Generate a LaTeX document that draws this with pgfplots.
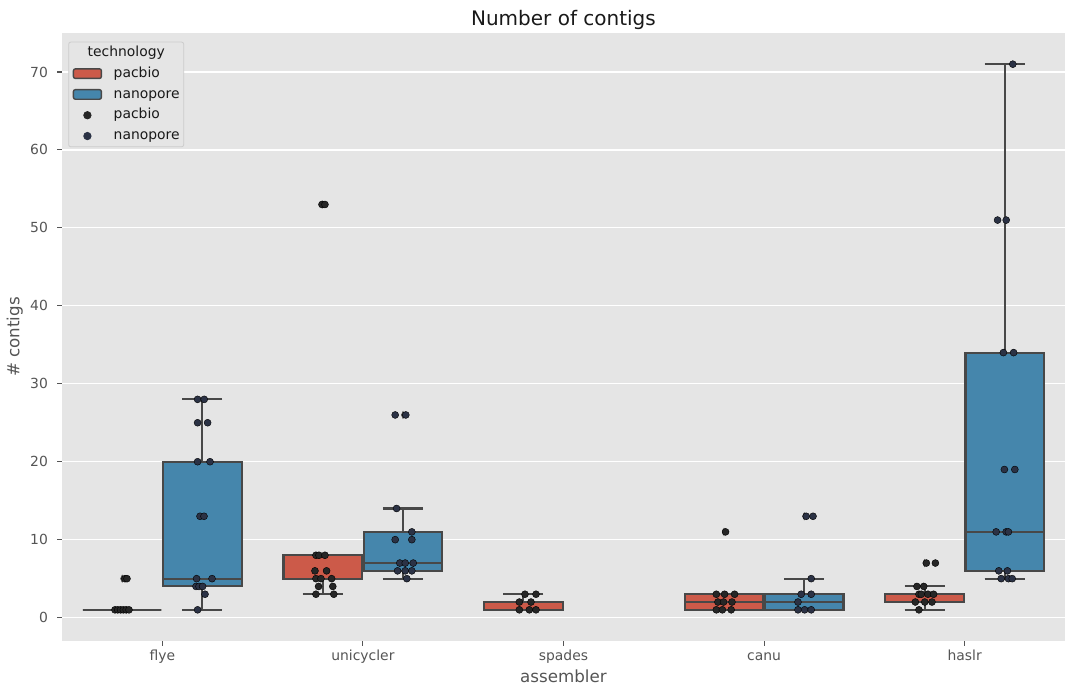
\documentclass[border=0pt]{standalone}
\usepackage{pgfplots}
\usepackage{pgfplotstable}
\pgfplotsset{compat=1.18}
\usepgfplotslibrary{statistics}
\usepackage{fontspec}
\setmainfont{DejaVu Sans}
\definecolor{bg}{HTML}{E5E5E5}
\definecolor{pbox}{RGB}{204,90,73}
\definecolor{nbox}{RGB}{69,134,172}
\definecolor{edge}{HTML}{484848}
\definecolor{tickc}{HTML}{555555}
\definecolor{pdot}{HTML}{262626}
\definecolor{ndot}{HTML}{2B3245}
\definecolor{legedge}{HTML}{CCCCCC}

\pgfplotstableread{
x y
-0.236 1
-0.222 1
-0.208 1
-0.194 1
-0.180 1
-0.166 1
-0.186 5
-0.176 5
0.766 8
0.781 8
0.811 8
0.761 6
0.819 6
0.766 5
0.791 5
0.844 5
0.779 4
0.850 4
0.766 3
0.855 3
0.796 53
0.811 53
1.808 3
1.863 3
1.780 2
1.838 2
1.780 1
1.830 1
1.863 1
2.762 3
2.803 3
2.853 3
2.770 2
2.798 2
2.840 2
2.762 1
2.792 1
2.836 1
2.808 11
3.809 7
3.854 7
3.762 4
3.796 4
3.772 3
3.784 3
3.817 3
3.845 3
3.754 2
3.801 2
3.837 2
3.772 1
}\pacdots

\pgfplotstableread{
x y
0.176 28
0.209 28
0.176 25
0.226 25
0.176 20
0.238 20
0.188 13
0.208 13
0.171 5
0.248 5
0.168 4
0.183 4
0.201 4
0.213 3
0.176 1
1.168 14
1.244 11
1.161 10
1.244 10
1.184 7
1.211 7
1.251 7
1.173 6
1.211 6
1.244 6
1.219 5
1.161 26
1.214 26
3.235 5
3.185 3
3.235 3
3.169 2
3.169 1
3.202 1
3.235 1
3.210 13
3.244 13
4.240 71
4.164 51
4.207 51
4.193 34
4.244 34
4.198 19
4.250 19
4.157 11
4.207 11
4.218 11
4.170 6
4.213 6
4.182 5
4.218 5
4.237 5
}\nandots

\pgfplotstableread{
x y
-0.2 5
0.8 53
1.2 26
2.8 11
3.2 13
3.8 7
}\fliers

\pgfplotsset{
  bx/.style={forget plot, draw=edge, line width=2.1pt,
    boxplot/draw direction=y,
    boxplot/box extend=0.392, boxplot/whisker extend=0.2},
}

\begin{document}
\begin{tikzpicture}
\useasboundingbox (0,0) rectangle (1067pt,686pt);
\begin{axis}[
  at={(62pt,45pt)}, anchor=south west,
  scale only axis, width=1003pt, height=608pt,
  xmin=-0.5, xmax=4.5, ymin=-3, ymax=75,
  axis background/.style={fill=bg},
  axis line style={draw=none},
  ymajorgrids, grid style={white, line width=1.2pt},
  xtick={0,1,2,3,4},
  xticklabels={flye,unicycler,spades,canu,haslr},
  ytick={0,10,...,70},
  tick align=outside, xtick pos=bottom, ytick pos=left,
  major tick length=4.9pt,
  major tick style={draw=tickc, line width=1.1pt},
  /pgf/number format/assume math mode=true,
  tick label style={font=\fontsize{13.9}{16}\selectfont, text=tickc},
  xticklabel style={anchor=base, inner sep=0pt, yshift=-15pt},
  yticklabel style={anchor=east, inner sep=0pt, xshift=-9pt},
  title={Number of contigs},
  title style={font=\fontsize{20}{24}\selectfont, text=black!90,
    at={(axis description cs:0.5,1)}, anchor=base, yshift=2pt},
  xlabel={assembler},
  xlabel style={font=\fontsize{16.7}{20}\selectfont, text=tickc,
    at={(axis description cs:0.5,0)}, anchor=base, yshift=-41pt},
  ylabel={\# contigs},
  ylabel style={font=\fontsize{16.7}{20}\selectfont, text=tickc,
    at={(axis description cs:-0.0424,0.5)}, anchor=base},
  legend style={at={(rel axis cs:0.0063,0.9857)}, anchor=north west,
    fill=bg, draw=legedge, line width=0.8pt, rounded corners=2pt,
    inner xsep=4pt, inner ysep=4pt,
    font=\fontsize{13.9}{16}\selectfont, text=black!90,
    nodes={inner sep=0pt, text height=10.5pt, text depth=3pt},
    row sep=7.3pt},
  legend cell align=left,
  /tikz/every odd column/.append style={column sep=11.6pt},
]
% boxes
\addplot[bx, fill=pbox, boxplot prepared={draw position=-0.2, lower whisker=1, lower quartile=1, median=1, upper quartile=1, upper whisker=1}] coordinates {};
\addplot[bx, fill=nbox, boxplot prepared={draw position=0.2, lower whisker=1, lower quartile=4, median=5, upper quartile=20, upper whisker=28}] coordinates {};
\addplot[bx, fill=pbox, boxplot prepared={draw position=0.8, lower whisker=3, lower quartile=5, median=5, upper quartile=8, upper whisker=8}] coordinates {};
\addplot[bx, fill=nbox, boxplot prepared={draw position=1.2, lower whisker=5, lower quartile=6, median=7, upper quartile=11, upper whisker=14}] coordinates {};
\addplot[bx, fill=pbox, boxplot prepared={draw position=1.8, lower whisker=1, lower quartile=1, median=1, upper quartile=2, upper whisker=3}] coordinates {};
\addplot[bx, fill=pbox, boxplot prepared={draw position=2.8, lower whisker=1, lower quartile=1, median=2, upper quartile=3, upper whisker=3}] coordinates {};
\addplot[bx, fill=nbox, boxplot prepared={draw position=3.2, lower whisker=1, lower quartile=1, median=2, upper quartile=3, upper whisker=5}] coordinates {};
\addplot[bx, fill=pbox, boxplot prepared={draw position=3.8, lower whisker=1, lower quartile=2, median=3, upper quartile=3, upper whisker=4}] coordinates {};
\addplot[bx, fill=nbox, boxplot prepared={draw position=4.2, lower whisker=5, lower quartile=6, median=11, upper quartile=34, upper whisker=71}] coordinates {};
% fliers
\addplot[forget plot, only marks, mark=diamond*, mark size=3.6pt,
  mark options={fill=edge, draw=edge, line width=0.5pt, xscale=0.6}] table[x=x,y=y] {\fliers};
% points
\addplot[forget plot, only marks, mark=*, mark size=3.5pt,
  mark options={fill=pdot, draw=none}] table[x=x,y=y] {\pacdots};
\addplot[forget plot, only marks, mark=*, mark size=3.5pt,
  mark options={fill=ndot, draw=none}] table[x=x,y=y] {\nandots};
% legend
\addlegendimage{empty legend}
\addlegendentry{\hspace*{-26pt}technology}
\addlegendimage{legend image code/.code={\draw[fill=pbox, draw=edge, line width=1.4pt] (0pt,-4.8pt) rectangle (28pt,4.8pt);}}
\addlegendentry{pacbio}
\addlegendimage{legend image code/.code={\draw[fill=nbox, draw=edge, line width=1.4pt] (0pt,-4.8pt) rectangle (28pt,4.8pt);}}
\addlegendentry{nanopore}
\addlegendimage{legend image code/.code={\fill[pdot] (14pt,0pt) circle (3.7pt);}}
\addlegendentry{pacbio}
\addlegendimage{legend image code/.code={\fill[ndot] (14pt,0pt) circle (3.7pt);}}
\addlegendentry{nanopore}
\end{axis}
\end{tikzpicture}
\end{document}
